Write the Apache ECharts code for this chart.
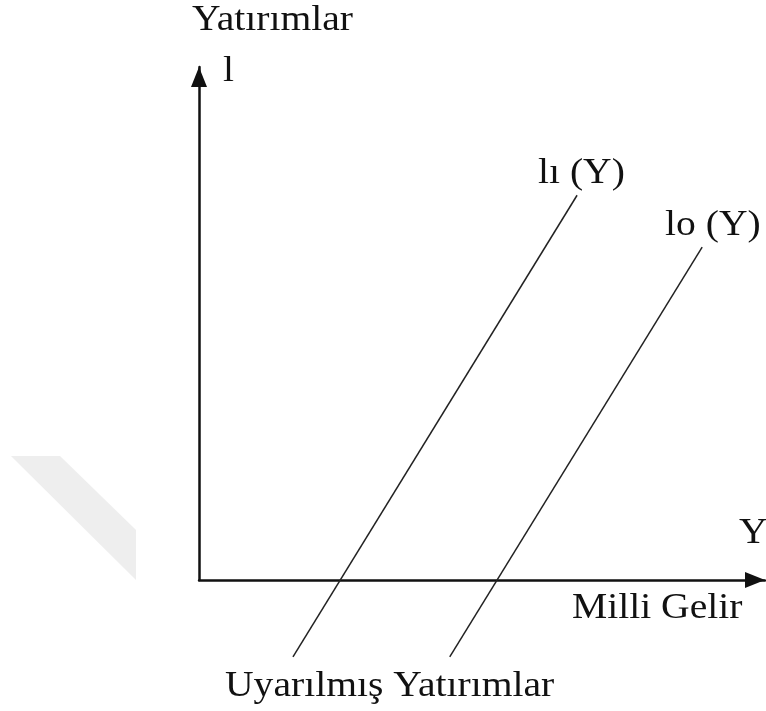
<!DOCTYPE html>
<html>
<head>
<meta charset="utf-8">
<script src="https://cdn.jsdelivr.net/npm/echarts@6/dist/echarts.min.js"></script>
<style>
  html, body { margin: 0; padding: 0; background: #fff; }
  #chart { width: 766px; height: 711px; }
</style>
</head>
<body>
<div id="chart"></div>
<script>
// two parallel investment lines, axis units 0..100
const i1X = [16.6, 66.8];
const i1Y = [-15, 75];
const i0X = [44.3, 88.9];
const i0Y = [-15, 64.9];

const seriesNames = ['lı (Y)', 'lo (Y)'];

function pairs(xs, ys) {
  return xs.map((x, i) => [x, ys[i]]);
}

const chart = echarts.init(document.getElementById('chart'));

const font = '36px "Liberation Serif", "DejaVu Serif", serif';
const textColor = '#111';

function label(text, x, y) {
  return {
    type: 'text',
    x: x,
    y: y,
    scaleX: 1.1,
    silent: true,
    style: {
      text: text,
      x: 0,
      y: 0,
      font: font,
      fill: textColor,
      align: 'left',
      verticalAlign: 'middle'
    }
  };
}

const axisCommon = {
  type: 'value',
  min: 0,
  max: 100,
  axisTick: { show: false },
  axisLabel: { show: false },
  splitLine: { show: false },
  axisLine: {
    show: true,
    onZero: false,
    symbol: ['none', 'triangle'],
    symbolSize: [16, 20],
    symbolOffset: [0, -10],
    lineStyle: { color: '#111', width: 2.5 }
  }
};

chart.setOption({
  backgroundColor: '#fff',
  animation: false,
  grid: { left: 199, right: 1, top: 67, bottom: 131 },
  xAxis: axisCommon,
  yAxis: axisCommon,
  graphic: [
    {
      type: 'polygon',
      silent: true,
      z: -1,
      shape: { points: [[11, 456], [60, 456], [136, 530], [136, 580]] },
      style: { fill: '#eeeeee' }
    },
    label('Yatırımlar', 192, 21),
    label('l', 223, 72),
    label(seriesNames[0], 538, 174),
    label(seriesNames[1], 665, 226),
    label('Y', 739, 534),
    label('Milli Gelir', 572, 609),
    label('Uyarılmış Yatırımlar', 225, 687)
  ],
  series: [
    {
      name: seriesNames[0],
      type: 'line',
      data: pairs(i1X, i1Y),
      showSymbol: false,
      clip: false,
      silent: true,
      lineStyle: { color: '#222', width: 1.5 }
    },
    {
      name: seriesNames[1],
      type: 'line',
      data: pairs(i0X, i0Y),
      showSymbol: false,
      clip: false,
      silent: true,
      lineStyle: { color: '#222', width: 1.5 }
    }
  ]
});
</script>
</body>
</html>
